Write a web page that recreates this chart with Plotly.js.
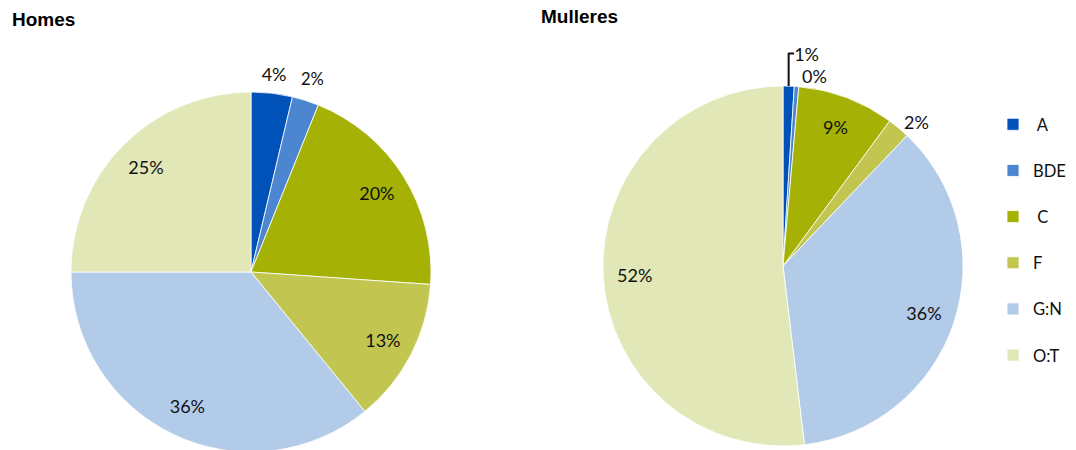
<!DOCTYPE html>
<html>
<head>
<meta charset="utf-8">
<script src="https://cdn.plot.ly/plotly-3.0.1.min.js"></script>
<style>
html,body{margin:0;padding:0;overflow:hidden;background:#fff;}
#chart{width:1076px;height:520px;}
</style>
</head>
<body>
<div id="chart"></div>
<script>
const categories = [' A', 'BDE', ' C', 'F', 'G:N', 'O:T'];
const homesValues = [3.7, 2.4, 20.0, 13.0, 35.9, 25.0];
const mulleresValues = [1.0, 0.4, 8.7, 2.0, 36.0, 51.9];
const sliceColors = ['#0052B9', '#4D86D0', '#A5B105', '#C2C650', '#B2CBE9', '#E2E7B8'];
// where each slice's percentage label goes: 'in' = inside ring, 'out' = just beyond the rim, 'lead' = outside with plotly placement
const homesLabelPos = ['out', 'out', 'in', 'in', 'in', 'in'];
const mulleresLabelPos = ['lead', 'lead', 'in', 'lead', 'in', 'in'];
const titles = ['Homes', 'Mulleres'];

const W = 1076, H = 520;
const FONT = 'Lato, "Open Sans", sans-serif';
const PCT = '%{percent:.0%}';
const legendLabels = categories.map(c => c + '<br> ');
const txtFont = {family: FONT, size: 18, color: '#111111'};
const clear = categories.map(() => 'rgba(0,0,0,0)');

function dom(cx, cy, r) {
  return {x: [(cx - r) / W, (cx + r) / W], y: [(H - cy - r) / H, (H - cy + r) / H]};
}
function base(values, domain) {
  return {
    type: 'pie', labels: legendLabels, values: values, sort: false,
    direction: 'clockwise', rotation: 0, domain: domain,
    hoverinfo: 'skip', showlegend: false
  };
}
function mainPie(values, cx, cy, r, showlegend) {
  return Object.assign(base(values, dom(cx, cy, r)), {
    marker: {colors: sliceColors, line: {color: '#ffffff', width: 0.8}},
    textinfo: 'none', showlegend: showlegend, hoverinfo: 'label+percent'
  });
}
function innerLabels(values, pos, cx, cy, r) {
  return Object.assign(base(values, dom(cx, cy, r)), {
    hole: 0.65,
    marker: {colors: clear, line: {width: 0}},
    texttemplate: pos.map(p => (p === 'in' || p === 'lead') ? PCT : ''),
    textposition: pos.map(p => p === 'in' ? 'inside' : (p === 'lead' ? 'outside' : 'none')),
    insidetextorientation: 'horizontal',
    textfont: txtFont, insidetextfont: txtFont, outsidetextfont: txtFont
  });
}
function rimLabels(values, pos, cx, cy, r, R) {
  return Object.assign(base(values, dom(cx, cy, R)), {
    hole: r / R,
    marker: {colors: clear, line: {width: 0}},
    texttemplate: pos.map(p => p === 'out' ? PCT : ''),
    textposition: pos.map(p => p === 'out' ? 'inside' : 'none'),
    insidetextorientation: 'horizontal',
    textfont: txtFont, insidetextfont: txtFont
  });
}

const data = [
  mainPie(homesValues, 251, 272, 180, true),
  mainPie(mulleresValues, 783, 266, 180, false),
  innerLabels(homesValues, homesLabelPos, 251, 272, 180),
  innerLabels(mulleresValues, mulleresLabelPos, 783, 266, 180),
  rimLabels(homesValues, homesLabelPos, 251, 272, 180, 218)
];

const layout = {
  width: W, height: H,
  margin: {l: 0, r: 0, t: 0, b: 0, autoexpand: false},
  paper_bgcolor: '#ffffff',
  showlegend: true,
  legend: {
    x: 993 / W, y: 1 - 107 / H, xanchor: 'left', yanchor: 'top',
    valign: 'top',
    font: {family: FONT, size: 16.6, color: '#111'},
    bgcolor: 'rgba(0,0,0,0)'
  },
  annotations: [
    {text: '<b>' + titles[0] + '</b>', x: 10 / W, y: 1 - 20 / H, xref: 'paper', yref: 'paper',
     xanchor: 'left', yanchor: 'middle', showarrow: false,
     font: {family: '"Liberation Sans", Arial, sans-serif', size: 19, color: '#000'}},
    {text: '<b>' + titles[1] + '</b>', x: 539 / W, y: 1 - 16 / H, xref: 'paper', yref: 'paper',
     xanchor: 'left', yanchor: 'middle', showarrow: false,
     font: {family: '"Liberation Sans", Arial, sans-serif', size: 19, color: '#000'}}
  ]
};

Plotly.newPlot('chart', data, layout, {displayModeBar: false, staticPlot: true});
</script>
</body>
</html>
